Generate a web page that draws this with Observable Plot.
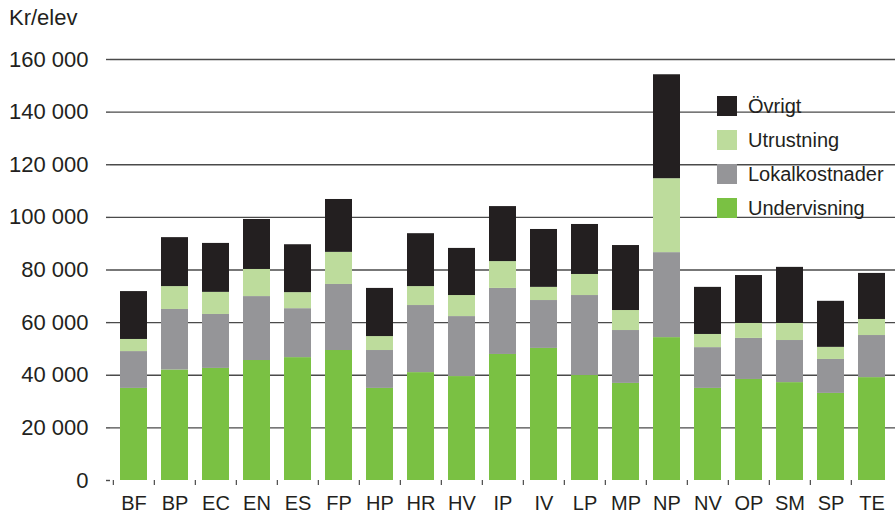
<!DOCTYPE html>
<html><head><meta charset="utf-8">
<script src="https://cdn.jsdelivr.net/npm/d3@7"></script>
<script src="https://cdn.jsdelivr.net/npm/@observablehq/plot@0.6"></script>
<style>
body{margin:0;background:#fff;font-family:"Liberation Sans",Arial,sans-serif;color:#231f20}
#wrap{position:relative;width:895px;height:515px}
#ylabel{position:absolute;left:9px;top:5px;font-size:22px}
#legend{position:absolute;left:717px;top:96px}
.row{display:flex;align-items:center;height:20px;margin-bottom:14px;font-size:20px}
.sw{width:20px;height:20px;margin-right:11px}
</style>
</head><body>
<div id="wrap"><div id="ylabel"></div><div id="legend"></div></div>
<script>
const schools = ["BF","BP","EC","EN","ES","FP","HP","HR","HV","IP","IV","LP","MP","NP","NV","OP","SM","SP","TE"];
const undervisning   = [35000,42000,42600,45600,46700,49400,35000,41000,39500,47900,50200,39900,36900,54300,35000,38400,37200,33100,39100];
const lokalkostnader = [14000,23000,20500,24300,18600,25100,14400,25500,22800,25100,18200,30400,20100,32300,15500,15600,16000,12900,16000];
const utrustning     = [4600,8700,8400,10300,6100,12200,5300,7200,8000,10200,5000,8000,7600,28100,5000,5700,6500,4600,6100];
const ovrigt         = [18200,18600,18600,19000,18200,20100,18300,20100,17900,20900,22000,19000,24700,39500,17900,18200,21300,17500,17500];
const seriesNames  = ["Undervisning","Lokalkostnader","Utrustning","Övrigt"];
const seriesColors = ["#7ac143","#959598","#bddc9c","#231f20"];
const yTicks = [0,20000,40000,60000,80000,100000,120000,140000,160000];
const yLabel = "Kr/elev";

const seriesValues = [undervisning, lokalkostnader, utrustning, ovrigt];
const rows = [];
seriesNames.forEach((s, i) => schools.forEach((sc, j) => rows.push({school: sc, series: s, value: seriesValues[i][j]})));

const fmt = d3.formatLocale({decimal: ",", thousands: "\u00a0", grouping: [3]}).format(",");
const W = 895, H = 515, mL = 110, mR = 0, mT = 59, mB = 35;
const step = (W - mL - mR) / schools.length;
const gridColor = "#4a4a4a";

const chart = Plot.plot({
  width: W, height: H,
  marginLeft: mL, marginRight: mR, marginTop: mT, marginBottom: mB,
  style: {fontFamily: '"Liberation Sans", Arial, sans-serif', color: "#231f20", background: "#fff"},
  x: {domain: schools, paddingInner: 0.35, paddingOuter: 0.175},
  y: {domain: [0, 160000]},
  color: {domain: seriesNames, range: seriesColors},
  marks: [
    Plot.gridY(yTicks.filter(d => d > 0), {stroke: gridColor, strokeOpacity: 1, strokeWidth: 1.4}),
    Plot.axisY(yTicks, {tickSize: 4, tickPadding: 18, fontSize: 22, stroke: gridColor, strokeWidth: 1.4, fill: "#231f20", tickFormat: fmt, label: null}),
    Plot.barY(rows, {x: "school", y: "value", fill: "series", order: seriesNames}),
    Plot.axisX({tickSize: 5, text: null, dx: -step / 2, stroke: gridColor, strokeWidth: 1.2, label: null}),
    Plot.axisX({tickSize: 0, tickPadding: 15, fontSize: 20, fill: "#231f20", label: null})
  ]
});
document.getElementById("wrap").appendChild(chart);
chart.style.position = "absolute"; chart.style.left = "0"; chart.style.top = "0";
document.getElementById("ylabel").textContent = yLabel;
document.getElementById("wrap").appendChild(document.getElementById("ylabel"));
const legend = document.getElementById("legend");
document.getElementById("wrap").appendChild(legend);
seriesNames.slice().reverse().forEach((s) => {
  const i = seriesNames.indexOf(s);
  const r = document.createElement("div"); r.className = "row";
  const sw = document.createElement("div"); sw.className = "sw"; sw.style.background = seriesColors[i];
  const t = document.createElement("span"); t.textContent = s;
  r.appendChild(sw); r.appendChild(t); legend.appendChild(r);
});
</script>
</body></html>
